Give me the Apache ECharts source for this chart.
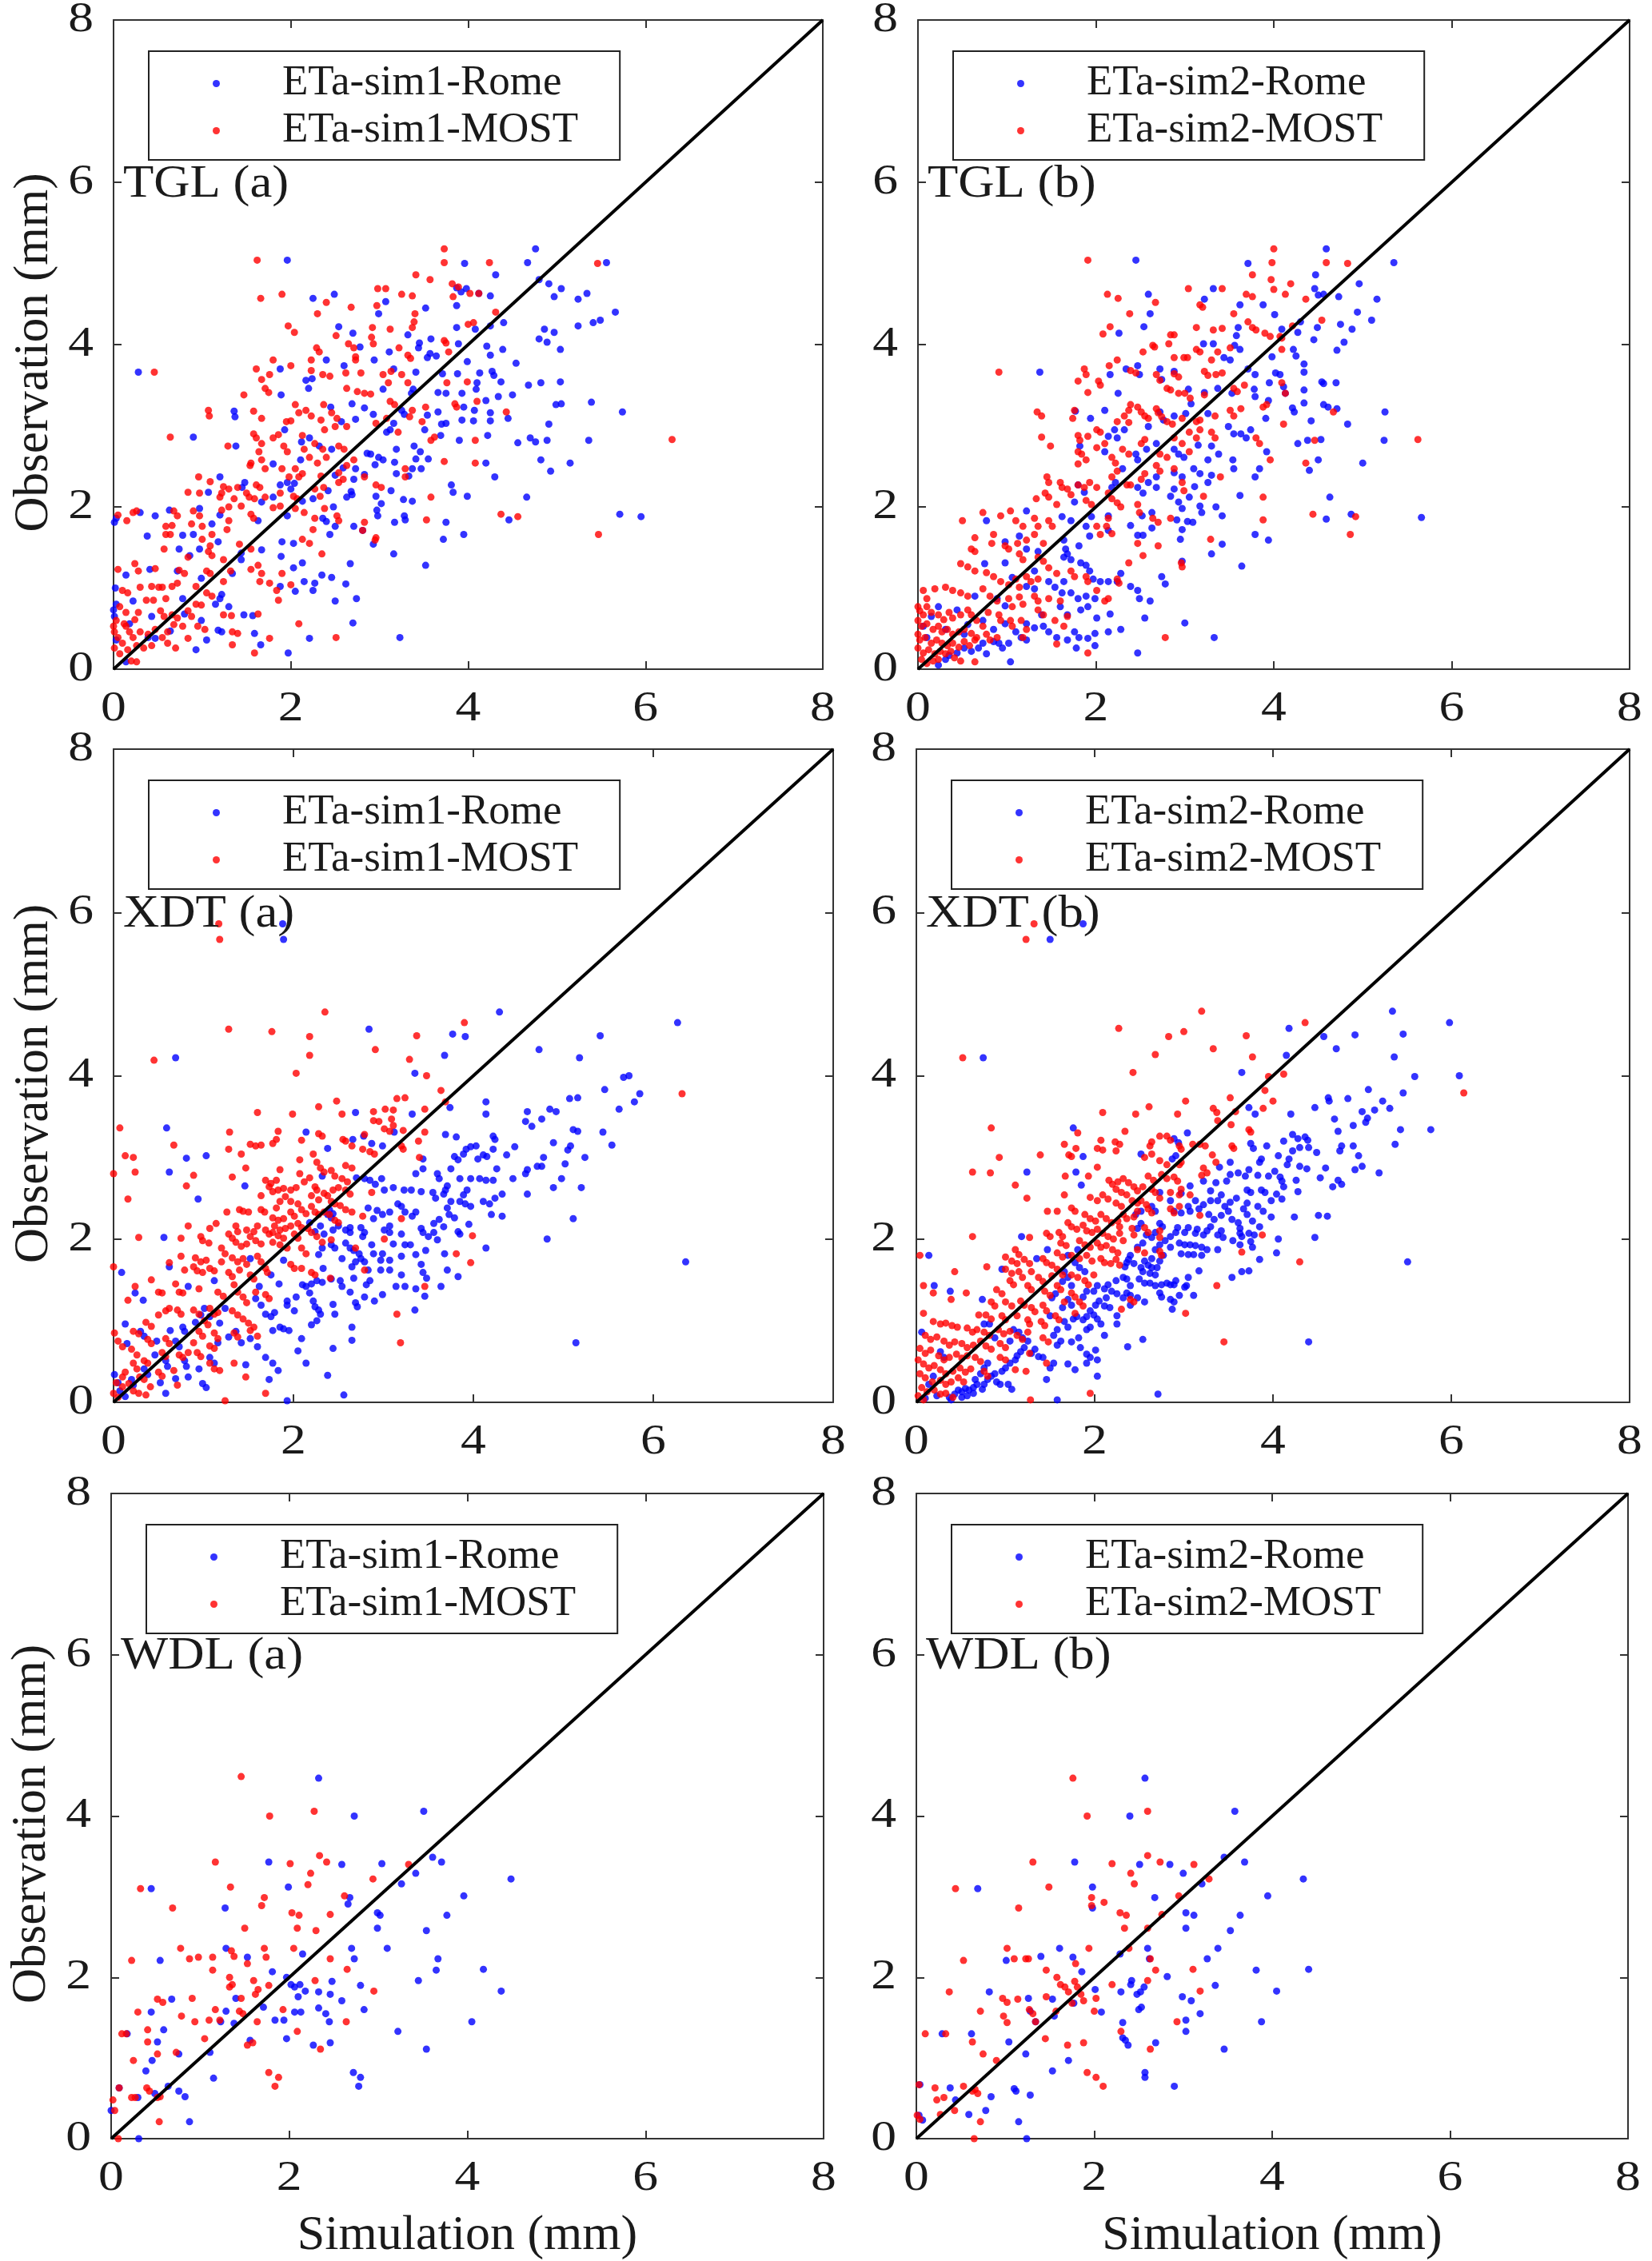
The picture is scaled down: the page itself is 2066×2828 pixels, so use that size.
<!DOCTYPE html>
<html lang="en">
<head>
<meta charset="UTF-8">
<title>ETa simulation vs observation</title>
<script src="https://cdn.jsdelivr.net/npm/echarts/dist/echarts.min.js"></script>
<style>
  html, body { margin: 0; padding: 0; background: #fff; }
  #chart { width: 2066px; height: 2828px; }
</style>
</head>
<body>
<div id="chart"></div>
<script>
// axis ticks shared by every panel
const axisTicks = [0, 2, 4, 6, 8];
const panelLabels = ['TGL (a)', 'TGL (b)', 'XDT (a)', 'XDT (b)', 'WDL (a)', 'WDL (b)'];
const romeNames = ['ETa-sim1-Rome', 'ETa-sim2-Rome'];
const mostNames = ['ETa-sim1-MOST', 'ETa-sim2-MOST'];
const xTitle = 'Simulation (mm)';
const yTitle = 'Observation (mm)';
const labelLevel = 6;          // panel label sits at this observation value
const oneToOne = [0, 8];

// flat lists x, y, x, y ... (simulation mm, observation mm)
const tglRome1 = [1.96,5.04,4.76,5.18,5.56,5.01,3.96,5.0,4.67,5.01,4.31,4.86,4.8,4.8,4.91,4.75,5.05,4.69,4.97,4.59,5.34,4.63,5.24,4.56,5.66,4.4,5.49,4.3,5.41,4.27,5.24,4.23,2.25,4.57,2.49,4.62,3.07,4.53,2.99,4.38,3.52,4.45,3.87,4.7,3.98,4.69,3.92,4.65,3.87,4.48,4.12,4.63,4.25,4.6,2.54,4.22,2.7,4.14,3.32,4.12,3.58,4.07,3.87,4.21,4.08,4.19,4.25,4.23,4.4,4.27,4.8,4.07,4.86,4.19,4.97,4.15,4.89,4.03,5.04,3.94,3.45,4.02,3.44,3.96,3.11,3.91,3.54,3.84,3.64,3.86,3.57,3.89,3.89,4.01,4.21,3.98,4.39,3.94,4.25,3.87,3.99,3.79,2.78,3.97,2.4,3.81,2.6,3.74,2.94,3.81,3.16,3.7,1.88,3.7,0.28,3.66,2.17,3.56,2.24,3.58,2.2,3.46,1.89,3.38,3.41,3.66,3.71,3.64,3.88,3.64,4.13,3.65,4.27,3.67,4.29,3.62,4.54,3.77,4.68,3.5,4.82,3.53,5.04,3.54,4.1,3.53,4.09,3.45,4.37,3.54,3.04,3.45,3.38,3.45,3.36,3.4,3.66,3.41,3.75,3.4,3.93,3.4,4.34,3.36,4.2,3.31,4.5,3.38,5.39,3.29,4.99,3.26,5.05,3.27,5.74,3.17,2.45,3.23,2.69,3.27,2.83,3.22,2.93,3.14,3.25,3.19,3.28,3.14,3.54,3.13,3.66,3.17,3.95,3.23,4.07,3.19,4.25,3.16,4.45,3.09,4.25,3.06,3.93,3.07,4.06,3.06,4.91,3.02,1.36,3.18,1.37,3.11,2.57,3.05,2.73,3.08,3.16,3.03,3.7,3.02,3.75,3.03,3.51,2.95,1.93,2.95,0.9,2.86,4.22,2.88,4.56,2.79,4.7,2.85,4.76,2.8,4.89,2.82,5.36,2.82,3.9,2.82,3.69,2.88,3.08,2.92,3.12,2.95,2.21,2.85,2.12,2.8,2.32,2.75,2.46,2.71,2.9,2.65,2.99,2.61,3.04,2.58,3.39,2.75,3.46,2.68,3.55,2.59,3.41,2.59,3.19,2.71,2.86,2.66,1.38,2.75,2.11,2.58,1.8,2.53,4.2,2.54,4.82,2.58,4.93,2.44,5.15,2.54,4.3,2.37,3.17,2.55,2.95,2.52,3.37,2.47,3.47,2.47,3.19,2.41,3.33,2.38,2.73,2.47,2.83,2.4,2.71,2.34,2.59,2.48,2.5,2.39,1.88,2.27,1.96,2.3,2.04,2.29,2.0,2.22,1.48,2.3,1.45,2.24,1.2,2.37,1.07,2.18,1.8,2.12,2.42,2.2,2.48,2.0,2.68,2.19,2.63,2.12,2.69,2.15,3.13,2.2,3.02,2.04,2.96,2.13,3.27,2.09,3.37,2.07,3.81,2.27,3.83,2.18,3.99,2.13,4.66,2.12,2.25,2.1,1.67,2.06,2.13,2.07,0.63,1.96,0.97,1.98,0.3,1.93,0.03,1.86,0.01,1.81,0.47,1.89,1.2,1.9,1.11,1.79,1.63,1.83,1.96,1.89,2.36,1.86,2.4,1.82,2.5,1.76,2.97,1.96,2.98,1.89,3.28,1.89,3.29,1.84,3.75,1.81,3.17,1.81,2.71,1.76,2.81,1.71,4.46,1.84,5.71,1.91,5.95,1.88,0.38,1.64,0.78,1.65,0.9,1.66,0.74,1.48,0.86,1.4,0.97,1.48,1.18,1.57,1.9,1.57,2.03,1.55,1.89,1.39,1.67,1.47,1.44,1.43,2.44,1.66,2.93,1.54,3.16,1.42,3.72,1.6,3.95,1.66,3.52,1.28,2.67,1.3,0.14,1.16,0.41,1.23,0.72,1.21,0.99,1.12,1.34,1.18,1.44,1.35,2.03,1.25,2.13,1.31,2.15,1.08,2.27,1.06,2.35,1.16,2.46,1.13,2.25,0.97,1.88,1.02,2.62,1.05,2.5,0.84,2.74,0.87,2.7,0.57,2.05,0.96,1.22,0.92,1.2,0.87,1.15,0.8,1.3,0.77,1.47,0.67,1.57,0.66,0,0.73,0.01,0.65,0.22,0.84,0.18,0.56,0.43,0.65,0.78,0.87,0.8,0.68,0.99,0.6,1.18,0.48,1.22,0.46,1.59,0.44,1.66,0.3,2.21,0.38,3.23,0.39,1.97,0.2,0.93,0.24,0.14,0.09,0.39,0.39,0.47,0.38,1.05,0.36,0.64,0.47,0.03,0.36,0.02,1.0,0.03,0.8];
const tglMost1 = [1.62,5.04,3.73,5.18,3.73,5.01,4.24,5.01,5.46,5.0,3.41,4.86,3.57,4.8,1.66,4.57,1.9,4.62,3.82,4.75,3.83,4.59,3.89,4.71,2.98,4.69,3.07,4.69,3.25,4.62,3.37,4.6,2.4,4.52,2.68,4.46,2.97,4.48,4.02,4.63,4.12,4.63,2.3,4.38,3.4,4.38,3.39,4.28,4.31,4.4,1.97,4.23,2.04,4.15,2.92,4.21,2.91,4.09,3.12,4.19,3.37,4.21,4.0,4.25,4.06,4.27,2.51,4.11,2.93,4.01,3.73,4.05,3.75,4.02,2.65,4.01,2.71,3.96,2.29,3.96,2.32,3.91,3.22,3.96,3.78,3.91,3.32,3.87,3.35,3.83,2.73,3.85,2.73,3.81,2.23,3.81,1.8,3.81,2.0,3.74,1.61,3.7,0.46,3.66,1.76,3.63,1.67,3.57,1.71,3.46,2.23,3.68,2.36,3.63,2.44,3.61,2.62,3.65,2.79,3.65,3.04,3.63,3.13,3.67,3.25,3.63,3.1,3.53,2.63,3.46,2.75,3.42,2.9,3.39,2.83,3.4,3.32,3.53,3.76,3.53,3.99,3.54,1.47,3.38,1.75,3.41,2.37,3.26,2.05,3.26,2.09,3.16,2.17,3.19,2.46,3.16,2.52,3.09,2.34,3.07,2.23,3.12,3.12,3.3,3.17,3.26,3.37,3.19,3.34,3.11,3.52,3.23,3.85,3.27,3.87,3.23,4.1,3.3,4.43,3.17,1.07,3.19,1.08,3.12,1.58,3.18,1.67,3.09,1.95,3.05,2.0,3.06,2.5,2.99,2.38,2.95,2.63,2.99,2.96,3.03,3.08,3.09,3.21,2.92,3.48,3.05,0.64,2.86,1.29,2.75,1.58,2.9,1.61,2.85,1.67,2.78,1.64,2.68,1.8,2.85,1.86,2.89,1.92,2.75,1.96,2.68,2.13,2.88,2.15,2.71,2.27,2.78,2.36,2.71,2.4,2.61,2.54,2.75,2.6,2.71,3.58,2.82,3.62,2.86,4.08,2.82,3.73,2.56,4.08,2.54,3.29,2.47,1.55,2.54,1.54,2.51,1.67,2.58,1.71,2.47,1.9,2.47,2.05,2.47,2.13,2.41,2.21,2.61,2.3,2.54,1.98,2.37,2.09,2.37,2.34,2.38,2.54,2.42,2.63,2.51,2.71,2.58,2.83,2.37,0.96,2.37,1.09,2.31,1.24,2.25,1.3,2.22,1.22,2.17,1.4,2.24,1.5,2.17,1.53,2.12,1.59,2.1,1.61,2.27,1.65,2.24,1.71,2.12,1.88,2.17,2.03,2.13,2.07,2.1,0.84,2.18,0.97,2.17,1.2,2.12,1.36,2.1,2.27,2.22,2.37,2.24,2.33,2.13,2.54,2.3,2.59,2.34,2.96,2.27,3.02,2.24,3.29,2.37,3.58,2.12,1.8,1.99,1.88,2.01,2.05,1.98,2.15,1.93,2.38,1.98,2.52,1.89,2.54,1.83,2.27,1.86,0.68,1.95,0.72,1.89,0.9,1.95,0.97,1.89,1.22,1.96,1.3,2.0,1.44,2.01,1.55,1.91,1.58,1.86,0.15,1.83,0.22,1.93,0.26,1.95,0.59,1.76,0.66,1.77,0.88,1.79,1.0,1.76,1.3,1.83,1.28,1.72,1.11,1.66,1.0,1.6,1.09,1.52,0.59,1.66,0.64,1.66,0.57,1.48,0.84,1.38,1.07,1.45,1.11,1.4,1.24,1.35,1.42,1.54,1.55,1.48,2.13,1.6,2.21,1.55,2.25,1.72,2.35,1.42,2.83,1.81,2.96,1.62,2.95,1.59,2.81,1.71,5.47,1.66,4.37,1.91,4.56,1.88,3.53,1.84,6.3,2.83,0.24,1.3,0.28,1.21,0.05,1.23,0.47,1.24,0.74,1.22,0.8,1.18,0.66,1.02,0.72,1.06,0.93,1.02,1.05,1.21,1.09,1.18,1.24,1.08,1.32,1.21,1.55,1.23,1.63,1.28,1.67,1.18,1.65,1.08,1.76,1.06,1.84,0.97,1.9,1.18,2.0,1.04,1.86,0.85,0.1,0.97,0.16,0.94,0.3,1.01,0.43,1.02,0.51,1.01,0.55,1.01,0.37,0.85,0.45,0.85,0.59,0.87,1.05,0.94,1.11,0.9,0.93,0.8,0.99,0.79,0.07,0.77,0.14,0.7,0.28,0.7,0.24,0.61,0.53,0.72,0.57,0.65,0.66,0.67,0.72,0.63,0.84,0.72,0.88,0.65,0.68,0.55,0.78,0.53,0.95,0.53,1.03,0.49,1.24,0.67,1.33,0.66,1.63,0.68,2.09,0.56,2.51,0.39,1.34,0.46,1.4,0.44,1.76,0.38,1.34,0.3,1.59,0.2,0.7,0.26,0.61,0.32,0.84,0.38,0,0.53,0.01,0.46,0.05,0.39,0.1,0.32,0.14,0.53,0.18,0.46,0.22,0.39,0.3,0.46,0.39,0.43,0.47,0.49,0.01,0.26,0.07,0.19,0.16,0.24,0.26,0.29,0.34,0.26,0.43,0.29,0.2,0.1,0.26,0.09,0.03,0.6,0.12,0.56,0.55,0.39,0.61,0.46,0.05,1.9];
const tglRome2 = [2.45,5.04,4.59,5.18,5.35,5.01,3.71,5.0,4.47,4.86,4.46,4.69,4.5,4.61,4.56,4.62,4.73,4.59,4.96,4.75,5.16,4.56,4.94,4.4,5.1,4.3,4.75,4.25,4.88,4.19,4.79,4.03,4.71,3.93,3.32,4.69,3.22,4.56,2.59,4.62,2.61,4.38,2.54,4.22,2.26,4.14,3.62,4.49,3.88,4.49,4.01,4.37,4.3,4.28,4.27,4.15,4.49,4.21,4.45,4.06,4.09,4.19,3.6,4.21,3.58,4.11,3.56,3.99,3.62,3.94,3.21,4.01,3.32,4.01,3.44,3.84,3.51,3.81,3.98,3.85,4.22,3.94,4.25,3.86,4.34,3.76,4.34,3.66,3.71,3.7,3.79,3.63,4.02,3.65,4.07,3.63,3.95,3.53,4.54,3.54,4.56,3.52,4.7,3.53,4.34,3.44,4.11,3.48,4.13,3.4,3.78,3.45,3.79,3.36,3.94,3.31,4.21,3.22,4.23,3.17,4.34,3.28,4.56,3.26,4.61,3.23,4.71,3.21,5.25,3.17,4.42,3.06,4.83,3.02,4.27,2.78,4.38,2.82,4.53,2.83,5.24,2.82,4.5,2.58,5.0,2.54,4.4,2.45,4.63,2.12,4.59,1.85,4.87,1.91,5.66,1.87,1.37,3.66,2.47,3.74,2.49,3.63,2.34,3.7,2.72,3.7,2.74,3.57,2.88,3.67,2.16,3.63,2.25,3.4,3.04,3.45,3.22,3.41,3.37,3.46,3.53,3.4,3.07,3.27,3.01,3.15,3.26,3.15,2.88,3.12,2.72,3.17,2.76,3.07,2.59,2.99,2.1,3.19,1.94,3.09,1.77,3.18,2.21,2.95,2.14,2.87,2.24,2.85,1.82,2.75,2.1,2.68,2.32,2.95,2.45,2.65,2.47,2.58,2.57,2.71,2.68,2.78,2.88,2.71,2.93,2.65,2.99,2.61,3.15,2.76,3.3,2.75,3.26,2.58,3.49,2.99,3.55,2.9,3.63,2.9,3.69,2.85,3.74,2.95,3.91,3.09,3.92,2.68,3.84,2.47,3.79,2.37,3.54,2.58,3.55,2.47,3.38,2.65,3.1,2.47,3.17,2.41,3.3,2.39,3.26,2.3,2.88,2.42,2.97,2.37,2.68,2.37,2.59,2.3,2.3,2.47,2.22,2.3,2.18,2.24,2.47,2.24,2.53,2.17,2.68,2.24,2.88,2.22,2.84,2.13,2.93,2.06,3.11,2.25,3.05,2.12,3.35,2.0,3.42,1.89,3.62,2.14,3.17,2.01,3.19,1.93,2.97,1.98,2.91,1.84,3.03,1.82,3.09,1.81,2.63,1.93,2.52,1.89,2.39,1.77,2.14,1.89,1.95,1.88,1.8,2.27,1.87,2.18,1.76,2.06,1.62,1.88,1.72,1.83,1.89,1.76,1.93,1.64,2.14,1.71,2.47,1.65,2.53,1.65,2.63,1.74,2.97,1.72,2.95,1.6,3.3,1.42,3.42,1.54,2.97,1.33,3.79,1.66,3.94,1.59,3.64,1.27,1.22,1.95,0.77,1.83,0.98,1.57,1.14,1.64,1.22,1.48,1.35,1.45,1.64,1.59,1.66,1.48,1.68,1.42,1.72,1.35,1.64,1.38,1.81,1.52,1.83,1.31,1.89,1.28,1.93,1.21,1.97,1.11,2.05,1.08,2.14,1.08,2.24,1.08,2.28,1.18,2.39,1.02,2.47,0.97,2.49,0.87,2.61,0.84,2.74,1.14,2.78,1.05,2.55,0.63,3.0,0.57,3.33,0.39,2.47,0.2,0.75,1.3,0.98,1.31,1.06,1.13,1.31,1.21,1.22,1.02,1.31,0.99,1.47,1.08,1.54,1.01,1.64,1.08,1.62,0.94,1.72,0.94,1.8,0.87,1.89,0.9,1.99,0.87,1.83,0.73,1.91,0.77,2.01,0.63,2.16,0.68,2.28,0.49,2.14,0.46,1.99,0.44,1.76,0.46,1.81,0.39,1.91,0.38,1.99,0.29,1.78,0.26,1.68,0.36,1.41,0.53,1.47,0.46,1.56,0.39,1.6,0.77,1.68,0.67,1.39,0.67,1.22,0.56,1.31,0.51,1.1,0.46,1.16,0.39,1.22,0.36,1.02,0.32,0.95,0.26,0.85,0.34,0.91,0.32,0.98,0.56,0.85,0.49,0.73,0.32,0.68,0.26,0.6,0.22,0.77,0.19,0.52,0.26,0.44,0.2,0.35,0.17,1.04,0.09,0.31,0.12,0.23,0.05,0.52,0.43,0.98,0.78,0.89,0.87,0.64,0.9,0.44,0.73,0.23,0.77,0.15,0.65,0.06,0.53,0.1,0.39,0.31,0.49,0.73,0.6,0.56,0.55];
const tglMost2 = [1.91,5.04,4.0,5.18,3.98,5.01,4.59,5.01,4.83,5.0,3.76,4.86,3.97,4.8,4.19,4.75,4.13,4.62,4.0,4.68,3.69,4.62,3.76,4.59,3.04,4.69,3.42,4.69,2.13,4.62,2.25,4.57,2.67,4.52,3.2,4.46,3.17,4.49,3.55,4.38,4.36,4.56,4.54,4.3,2.38,4.38,2.16,4.22,2.08,4.13,3.13,4.21,3.32,4.18,3.42,4.2,3.71,4.28,3.76,4.21,3.8,4.18,3.9,4.14,3.96,4.1,4.07,4.1,4.09,4.08,4.21,4.23,2.84,4.12,2.88,4.12,2.99,3.84,3.03,3.84,2.64,3.99,2.66,3.97,2.53,3.91,2.82,4.01,3.13,3.94,3.17,3.91,2.88,3.84,3.37,3.91,3.3,3.81,3.51,3.96,4.09,3.94,2.24,3.81,2.15,3.74,1.87,3.7,1.89,3.63,1.8,3.55,0.91,3.66,2.03,3.55,2.05,3.5,1.91,3.41,2.39,3.68,2.45,3.65,2.68,3.63,2.72,3.56,2.88,3.64,2.93,3.6,3.22,3.67,3.26,3.62,3.35,3.63,3.42,3.65,2.8,3.46,2.84,3.44,2.93,3.4,3.0,3.4,3.06,3.34,3.22,3.38,3.55,3.46,3.59,3.42,3.67,3.5,4.09,3.53,4.13,3.4,1.34,3.17,1.39,3.12,1.76,3.19,1.74,3.09,2.39,3.26,2.37,3.19,2.47,3.23,2.51,3.17,2.55,3.12,2.59,3.09,2.32,3.12,2.24,3.05,2.37,3.04,2.68,3.21,2.7,3.16,2.74,3.11,2.8,3.05,2.86,3.02,2.97,3.09,3.13,3.05,3.17,3.07,3.34,3.12,3.51,3.19,3.55,3.12,3.63,3.21,3.88,3.23,3.92,3.26,4.11,3.02,4.67,3.17,4.46,2.82,5.62,2.83,3.88,2.12,4.44,1.91,4.92,1.88,4.86,1.66,3.88,1.84,4.36,2.54,3.96,2.58,3.8,2.85,3.84,2.78,1.39,2.86,1.49,2.75,1.8,2.88,1.82,2.82,1.91,2.87,2.01,2.95,2.05,2.92,1.8,2.68,1.84,2.65,1.89,2.58,1.8,2.53,2.01,2.73,2.1,2.78,2.18,2.61,2.22,2.54,2.3,2.71,2.37,2.65,2.51,2.78,2.55,2.83,2.72,2.65,2.8,2.61,2.88,2.85,2.97,2.78,3.05,2.92,3.13,2.85,3.17,2.95,3.3,2.92,3.34,2.85,3.05,2.68,1.45,2.37,1.47,2.3,1.6,2.3,1.62,2.24,1.68,2.22,1.72,2.15,1.8,2.27,1.87,2.24,1.93,2.3,2.01,2.24,1.43,2.17,1.47,2.12,1.33,2.1,1.56,2.03,1.89,2.08,1.95,2.03,2.14,2.17,2.18,2.1,2.24,2.05,2.28,2.0,2.35,2.27,2.39,2.27,2.18,2.37,2.24,2.44,2.51,2.34,2.55,2.41,2.68,2.51,2.72,2.44,2.88,2.47,2.97,2.3,2.99,2.2,3.21,2.13,3.4,2.37,2.47,2.03,2.49,1.93,2.64,1.86,2.7,1.81,2.84,1.86,2.14,1.86,2.12,1.76,2.01,1.76,2.05,1.66,2.18,1.67,2.47,1.55,2.7,1.52,2.53,1.4,2.96,1.31,2.97,1.26,2.37,1.31,3.29,1.6,1.04,1.95,0.73,1.93,0.93,1.89,0.5,1.83,1.1,1.83,1.18,1.76,1.31,1.86,1.35,1.76,1.47,1.83,1.51,1.76,0.85,1.66,0.64,1.62,0.83,1.55,0.6,1.48,0.64,1.45,0.98,1.52,1.02,1.48,1.12,1.55,1.22,1.59,1.31,1.66,1.14,1.42,1.18,1.35,1.35,1.38,1.41,1.33,1.41,1.55,1.47,1.25,1.56,1.18,0.48,1.3,0.56,1.26,0.64,1.21,0.77,1.19,0.85,1.14,0.93,1.08,1.02,1.04,1.1,1.11,1.14,1.01,1.22,1.14,1.27,1.08,1.35,1.11,1.72,1.21,1.76,1.14,1.89,1.14,1.91,1.08,2.01,0.97,2.14,0.87,2.24,1.11,2.26,1.06,2.1,0.84,0.19,0.99,0.31,1.01,0.39,0.97,0.48,0.94,0.56,0.9,0.73,0.99,0.81,0.9,0.89,0.84,1.02,0.87,1.06,0.77,1.14,0.89,1.18,0.8,1.31,0.9,1.35,0.84,1.47,0.87,1.6,0.84,1.35,0.73,1.41,0.67,1.54,0.6,1.64,0.53,1.56,0.31,1.91,0.2,2.78,0.39,1.68,0.65,1.16,0.6,1.22,0.49,1.18,0.39,1.04,0.6,1.06,0.53,0.91,0.67,0.93,0.6,0.79,0.7,0.64,0.09,0,0.77,0.02,0.72,0.06,0.67,0.1,0.77,0.15,0.7,0.23,0.67,0.29,0.61,0.35,0.7,0.39,0.63,0.48,0.67,0.56,0.73,0.6,0.67,0.66,0.6,0.73,0.53,0,0.6,0.04,0.53,0.1,0.56,0.17,0.49,0.23,0.53,0.27,0.46,0.33,0.49,0.39,0.43,0.46,0.46,0.52,0.49,0.6,0.44,0.66,0.39,0.77,0.43,0.81,0.36,0.89,0.39,0,0.43,0.02,0.36,0.08,0.39,0.15,0.32,0.21,0.36,0.27,0.32,0.33,0.29,0.39,0.32,0.46,0.27,0.52,0.34,0.58,0.29,0.64,0.36,0,0.26,0.06,0.2,0.12,0.24,0.19,0.19,0.25,0.22,0.31,0.19,0.37,0.22,0.04,0.12,0.1,0.07,0.17,0.1,0.23,0.12,0.41,0.14,0.48,0.1,0.06,0.97,0.1,0.87];
const xdtRome1 = [1.88,5.86,1.89,5.67,4.29,4.78,6.27,4.65,2.84,4.57,3.77,4.51,3.91,4.48,5.41,4.49,4.73,4.32,5.18,4.22,3.68,4.25,3.35,4.03,0.69,4.22,5.67,3.98,5.73,4.0,5.46,3.83,5.85,3.78,5.07,3.72,5.16,3.73,5.79,3.68,4.14,3.68,5.62,3.59,3.74,3.61,4.6,3.56,4.58,3.44,4.65,3.38,4.85,3.59,4.92,3.56,4.76,3.47,4.14,3.53,2.69,3.55,3.32,3.53,5.11,3.34,5.16,3.32,5.44,3.31,5.54,3.15,4.22,3.26,4.24,3.22,4.46,3.13,3.69,3.28,3.81,3.25,4.89,3.18,5.08,3.14,5.05,3.09,5.24,3.0,4.78,3.0,4.03,3.14,3.97,3.13,3.92,3.1,4.11,3.03,4.15,3.01,4.22,3.1,4.37,3.03,4.05,2.98,4.26,2.86,3.79,3.01,3.83,2.97,3.89,3.04,3.44,2.98,3.44,2.86,3.75,2.86,3.36,2.8,3.6,2.8,3.62,2.74,4.71,2.89,4.76,2.89,4.6,2.85,4.58,2.8,5.02,2.92,4.98,2.74,4.44,2.74,4.89,2.63,5.2,2.63,4.6,2.55,4.32,2.55,3.85,2.74,3.97,2.74,4.07,2.74,4.14,2.72,4.22,2.72,3.71,2.65,3.69,2.6,3.67,2.55,3.93,2.6,3.89,2.54,3.85,2.46,4.11,2.46,4.18,2.43,4.24,2.5,3.91,2.43,3.97,2.4,3.75,2.46,3.71,2.38,3.55,2.57,3.58,2.5,3.42,2.58,3.31,2.6,3.23,2.6,3.11,2.63,3.01,2.6,2.91,2.67,2.85,2.72,2.98,2.74,2.79,2.74,2.32,2.77,2.7,2.75,1.46,2.65,0.94,2.49,0.62,2.82,0.81,2.99,1.03,3.02,0.59,3.36,2.14,3.31,2.66,3.22,2.87,3.17,2.78,3.26,2.38,3.11,2.99,3.14,3.12,3.31,4.14,1.89,4.82,2.0,5.11,2.25,4.32,2.28,4.2,2.3,3.95,2.18,3.83,2.09,3.85,2.06,3.79,2.26,3.73,2.3,3.62,2.24,3.56,2.19,3.67,2.15,3.56,2.08,3.5,2.03,3.6,1.99,3.42,2.13,3.44,2.08,3.32,2.28,3.24,2.33,3.2,2.4,3.16,2.43,3.07,2.33,2.99,2.3,2.93,2.35,2.83,2.38,2.89,2.25,3.36,2.33,3.07,2.16,3.01,2.11,3.07,2.08,3.2,2.06,3.24,1.93,3.3,1.93,3.11,1.94,3.47,1.86,3.68,1.82,3.36,1.81,3.2,1.79,2.99,1.82,2.87,1.93,2.77,2.03,2.79,2.08,2.75,2.14,2.63,2.14,2.58,2.11,2.63,2.08,2.5,2.16,2.44,2.11,2.4,2.36,2.44,2.31,2.38,2.3,2.42,2.26,2.3,2.16,2.34,2.06,2.18,2.2,2.24,2.09,2.42,1.93,2.46,1.89,2.32,1.89,2.28,1.81,2.58,1.95,2.63,1.89,2.67,1.86,2.73,1.82,2.75,1.76,2.69,1.72,2.79,1.72,2.54,1.76,2.89,1.82,2.97,1.74,3.07,1.74,3.2,1.56,3.24,1.42,3.14,1.42,3.07,1.62,3.42,1.69,3.44,1.59,3.36,1.39,3.35,1.13,3.48,1.52,3.46,1.3,3.64,1.42,3.71,1.62,3.83,1.54,2.83,1.62,2.85,1.49,2.81,1.44,2.97,1.62,2.99,1.32,2.9,1.24,2.79,1.29,2.65,1.66,2.67,1.52,2.52,1.49,2.63,1.35,2.69,1.22,2.71,1.17,2.65,0.92,2.65,0.76,2.54,1.42,2.42,1.51,2.33,1.64,2.32,1.47,2.26,1.49,2.2,1.45,2.1,1.44,2.14,1.42,2.18,1.34,2.03,1.29,2.22,1.24,2.24,1.17,2.28,1.13,2.3,1.08,2.26,1.0,2.2,0.95,2.44,1.2,2.46,1.08,2.01,1.12,1.93,1.24,1.93,1.19,1.79,1.1,1.75,1.05,1.69,1.08,1.77,0.88,1.85,0.92,1.89,0.9,1.95,0.88,1.64,1.19,1.58,1.27,1.52,1.76,1.89,1.74,1.84,1.45,1.62,1.42,1.75,1.56,2.09,0.78,2.05,0.63,2.14,0.48,2.44,0.66,2.38,0.33,2.56,0.09,1.93,0.02,1.69,0.55,1.77,0.48,1.83,0.39,1.73,0.28,1.6,0.68,1.47,0.46,1.52,0.78,1.42,0.73,1.36,0.87,1.28,0.8,1.18,0.97,1.16,0.73,1.24,1.15,1.12,1.49,1.01,1.15,0.97,1.07,1.07,1.05,0.91,0.98,0.83,1.42,0.62,1.66,0.56,2.02,0.09,1.59,0.24,1.34,0.33,1.25,0.13,0.96,0.3,0.87,0.34,0.81,0.15,0.72,0.48,0.75,0.63,0.88,0.77,0.92,0.79,0.87,0.69,0.75,0.73,0.68,0.46,0.58,0.58,0.51,0.6,0.44,0.79,0.51,0.81,0.44,0.83,0.31,0.69,0.29,0.99,0.23,1.03,0.18,0.58,0.11,0.95,0.41,1.07,0.55,1.12,0.48,0.34,0.41,0.38,0.34,0.2,0.28,0.22,0.21,0.01,0.34,0.05,0.24,0.07,0.14,0.13,0.07,0.52,0.24,5.14,0.73,6.36,1.72];
const xdtMost1 = [1.17,5.86,1.18,5.67,2.35,4.78,1.28,4.57,1.76,4.54,2.18,4.48,3.9,4.65,3.37,4.49,2.91,4.32,2.18,4.25,0.45,4.19,3.29,4.2,2.03,4.03,3.48,4.0,3.64,3.82,6.32,3.78,3.15,3.72,3.24,3.73,2.48,3.69,2.28,3.62,1.6,3.55,1.99,3.53,2.54,3.53,3.02,3.59,3.11,3.58,2.89,3.56,3.46,3.59,3.69,3.68,2.89,3.45,2.95,3.44,3.09,3.47,3.11,3.39,3.01,3.35,3.07,3.32,3.22,3.33,3.46,3.31,0.07,3.36,1.29,3.31,1.83,3.32,1.81,3.22,2.28,3.29,2.32,3.26,2.09,3.21,2.55,3.22,2.58,3.2,2.65,3.14,2.79,3.28,2.77,3.1,2.85,3.07,2.9,3.04,3.2,3.14,3.22,3.1,3.39,3.2,3.4,3.0,0.67,3.15,1.52,3.16,1.58,3.14,1.64,3.15,1.28,3.1,1.77,3.17,1.42,3.04,0.13,3.02,0.22,3.0,0.24,2.82,0,2.8,0.89,2.78,0.81,2.65,1.32,2.76,1.47,2.87,1.85,2.85,2.07,2.97,2.22,3.04,2.26,2.94,2.3,2.87,2.34,2.82,2.42,2.84,2.46,2.77,2.58,2.9,2.65,2.87,2.54,2.74,2.6,2.7,2.5,2.63,2.44,2.6,2.58,2.6,2.63,2.55,2.18,2.75,2.12,2.7,2.24,2.64,2.26,2.6,2.07,2.8,1.69,2.72,1.75,2.68,1.81,2.72,1.73,2.64,1.77,2.58,1.83,2.6,1.89,2.62,1.97,2.6,2.03,2.63,1.91,2.52,1.97,2.46,2.05,2.43,2.2,2.53,2.28,2.48,2.34,2.56,2.38,2.53,2.42,2.46,2.46,2.43,2.52,2.41,2.58,2.36,2.65,2.33,2.87,2.57,0.16,2.49,1.64,2.53,1.85,2.46,1.81,2.38,1.97,2.33,2.01,2.28,2.09,2.36,2.14,2.31,2.2,2.4,2.24,2.33,2.28,2.3,2.34,2.33,2.4,2.3,2.46,2.23,2.5,2.2,2.77,2.28,1.4,2.36,1.44,2.34,1.5,2.33,1.26,2.33,1.64,2.36,1.68,2.33,1.77,2.26,1.83,2.23,1.89,2.25,1.79,2.16,1.85,2.11,1.91,2.13,1.97,2.16,2.05,2.19,2.09,2.14,2.16,2.13,2.2,2.08,2.01,2.06,2.05,2.01,1.83,2.04,1.89,2.01,1.77,2.08,1.69,2.11,1.73,2.06,1.6,2.16,1.56,2.09,1.48,2.11,1.52,2.03,1.36,2.16,1.38,2.09,1.28,2.06,1.32,2.01,1.36,1.96,1.42,1.91,1.48,1.94,1.58,1.98,1.64,1.94,1.77,1.96,1.85,1.93,1.93,1.89,2.09,1.89,2.14,1.82,2.26,2.03,2.32,1.96,2.42,1.99,1.2,1.89,1.24,1.82,1.07,2.13,0.83,2.16,1.14,2.19,0.97,2.03,0.99,1.98,0.75,2.01,0.28,2.02,1.06,1.95,1.2,1.72,1.32,1.77,1.38,1.72,1.44,1.76,1.48,1.69,1.6,1.79,1.64,1.72,0.91,1.77,0.97,1.72,1.03,1.74,0.89,1.66,0.93,1.61,0.99,1.59,0.75,1.79,0.62,1.71,0.79,1.62,1.07,1.64,1.12,1.61,1.28,1.59,1.32,1.54,1.4,1.62,1.52,1.56,1.56,1.51,1.69,1.64,1.71,1.59,1.97,1.69,2.01,1.64,2.09,1.64,2.2,1.59,2.24,1.56,2.41,1.52,2.79,1.62,3.46,1.42,3.81,1.82,3.99,2.04,3.97,1.71,3.01,2.0,2.69,1.89,3.2,2.25,3.15,1.08,3.19,0.73,0.42,1.5,0,1.66,0.24,1.42,0.16,1.25,0.5,1.35,0.54,1.34,0.69,1.45,0.73,1.35,0.77,1.34,0.95,1.39,1.16,1.35,1.22,1.3,1.34,1.44,1.38,1.35,1.44,1.29,1.48,1.22,1.58,1.35,1.69,1.32,1.73,1.27,0.58,1.12,0.62,1.15,0.5,1.07,0.71,1.13,0.75,1.08,0.89,1.13,0.95,1.08,1.07,1.15,1.12,1.08,1.01,1.0,1.05,0.95,1.16,1.1,1.32,1.12,1.38,1.07,1.44,1.02,1.5,0.97,1.56,0.92,1.6,0.81,1.52,0.88,1.34,0.85,1.38,0.8,0.95,0.87,0.99,0.81,1.12,0.85,1.16,0.78,0.89,0.73,1.07,0.69,1.12,0.66,0.36,0.98,0.42,0.93,0.22,0.87,0.28,0.84,0.38,0.77,0.42,0.72,0.58,0.78,0.62,0.72,0.01,0.85,0.05,0.75,0.1,0.68,0.2,0.65,0.26,0.58,0.54,0.61,0.58,0.56,0.73,0.58,0.77,0.55,0.93,0.61,0.97,0.56,0.83,0.61,0.34,0.51,0.38,0.48,0.22,0.48,0.26,0.41,0.13,0.37,0.1,0.31,0.29,0.31,0.34,0.28,0.5,0.37,0.54,0.32,0.67,0.39,0.71,0.21,1.07,0.48,1.12,0.41,1.18,0.39,1.34,0.48,1.47,0.31,0.03,0.24,0.1,0.19,0.17,0.23,0.22,0.14,0.28,0.11,0.36,0.09,0,0.11,0.05,0.06,0.41,0.19,1.69,0.11,1.24,0.02];
const xdtRome2 = [1.87,5.86,1.5,5.67,5.34,4.79,5.98,4.65,4.18,4.58,4.57,4.48,4.92,4.5,5.46,4.51,4.71,4.33,4.15,4.25,5.36,4.23,3.65,4.04,0.75,4.22,6.09,4.0,5.59,3.99,5.07,3.83,5.46,3.79,4.62,3.73,4.63,3.69,4.84,3.72,5.23,3.69,5.31,3.6,4.47,3.61,3.73,3.61,3.8,3.53,4.2,3.53,5.0,3.56,5.14,3.58,5.06,3.48,5.04,3.43,4.69,3.47,4.9,3.39,4.73,3.32,5.43,3.34,5.77,3.34,5.37,3.16,4.9,3.14,4.77,3.14,4.75,3.08,4.96,3.02,5.0,2.89,4.92,2.85,5.19,2.81,4.22,3.28,4.28,3.23,4.36,3.25,4.39,3.21,4.12,3.2,4.3,3.12,4.22,3.08,4.4,3.12,4.49,3.06,3.93,3.14,4.06,3.02,3.75,3.17,3.78,3.11,3.87,2.98,3.85,2.94,3.52,2.94,4.18,2.98,4.16,2.91,4.3,2.89,4.38,2.86,4.26,2.72,4.53,2.75,4.59,2.87,4.73,2.72,4.67,2.64,4.77,2.67,4.28,2.58,4.12,2.64,4.08,2.76,4.1,2.71,4.02,2.83,3.95,2.77,3.83,2.78,3.73,2.85,3.69,2.77,3.61,2.81,3.4,2.88,3.52,2.79,3.48,2.71,3.36,2.69,3.3,2.59,3.22,2.71,3.07,2.65,3.04,3.3,2.89,3.23,2.94,3.18,2.52,3.04,2.91,3.02,2.87,2.98,1.76,3.36,1.87,3.01,1.79,2.82,1.24,2.82,1.85,2.66,3.71,2.6,3.75,2.57,3.87,2.6,3.91,2.57,4.04,2.55,4.1,2.49,4.24,2.27,4.51,2.29,4.61,2.28,4.47,2.02,5.51,1.72,3.98,2.47,3.98,2.27,3.83,2.4,3.89,2.34,3.71,2.44,3.67,2.37,3.59,2.5,3.52,2.45,3.42,2.54,3.38,2.47,3.46,2.4,3.3,2.47,3.22,2.42,3.13,2.47,3.17,2.37,3.05,2.4,3.07,2.34,2.97,2.32,3.28,2.3,3.34,2.24,3.42,2.29,3.5,2.34,3.54,2.24,3.61,2.2,3.63,2.13,3.71,2.3,3.77,2.22,3.85,2.15,3.63,2.07,3.65,2.03,3.73,2.07,3.79,2.05,3.55,1.98,3.42,2.1,3.38,2.05,3.44,2.02,3.3,2.15,3.26,2.1,3.22,2.05,3.15,2.12,3.13,2.07,3.05,2.14,3.01,2.08,2.93,2.14,2.91,2.08,2.85,2.03,2.79,1.98,2.95,1.95,3.01,1.93,3.07,1.93,3.13,1.92,3.2,1.9,3.26,1.87,3.38,1.87,2.97,1.82,3.05,1.81,3.11,1.81,3.2,1.8,2.85,1.9,2.73,1.93,2.68,1.87,2.77,1.8,2.73,1.73,2.64,1.76,2.56,1.73,2.6,1.68,2.64,1.65,2.7,1.65,2.52,1.65,2.54,1.6,2.44,1.7,2.4,1.8,2.38,1.75,2.48,1.9,2.54,1.95,2.58,2.05,2.64,2.02,2.68,2.08,2.73,2.19,2.76,2.15,2.52,2.19,2.48,2.13,2.46,2.3,2.52,2.34,2.64,2.4,2.68,2.34,2.73,2.57,2.97,2.56,2.85,2.47,2.89,2.34,4.06,2.0,3.75,1.97,3.77,1.9,3.63,1.93,4.04,1.83,3.85,1.75,3.17,1.61,3.05,1.53,3.03,1.43,3.01,1.41,2.91,1.49,2.89,1.44,2.85,1.44,2.81,1.46,2.75,1.44,2.68,1.43,2.62,1.46,2.56,1.46,2.5,1.51,2.68,1.56,2.62,1.58,2.73,1.34,2.75,1.29,2.85,1.26,2.89,1.23,2.95,1.31,3.11,1.31,2.87,1.14,3.54,1.53,3.65,1.6,3.73,1.61,2.36,1.71,2.34,1.66,2.32,1.53,2.36,1.51,2.4,1.43,2.24,1.49,2.15,1.44,2.11,1.39,2.19,1.36,2.25,1.33,2.36,1.34,2.4,1.31,2.48,1.28,2.56,1.23,2.4,1.19,2.32,1.28,2.17,1.16,2.03,1.43,1.99,1.36,2.05,1.24,2.01,1.19,1.91,1.36,1.87,1.29,1.95,1.12,1.99,1.07,2.03,1.02,1.91,1.05,1.87,1.01,1.8,1.05,1.76,1.02,1.95,0.92,1.91,0.89,2.07,0.96,2.11,0.82,2.25,0.96,2.25,1.06,2.11,1.18,2.13,1.28,2.54,0.77,2.37,0.68,2.71,0.1,1.58,0.03,4.4,0.74,1.81,1.87,1.78,1.71,1.7,1.8,1.47,1.87,1.35,1.76,1.18,2.03,1.66,1.6,1.7,1.53,1.83,1.65,1.89,1.6,1.74,1.43,1.64,1.48,1.56,1.33,1.52,1.28,1.7,1.26,1.74,1.19,1.64,1.16,1.5,1.06,1.66,0.99,1.7,0.92,1.58,0.89,1.54,0.82,1.62,0.75,1.58,0.7,1.74,0.74,1.82,0.79,1.84,0.67,1.91,0.59,1.95,0.55,2.01,0.64,2.03,0.52,1.91,0.48,1.7,0.47,1.78,0.4,2.03,0.32,1.46,0.28,1.5,0.42,1.54,0.48,1.42,0.55,1.37,0.56,1.33,0.65,1.29,0.6,1.21,0.67,1.17,0.62,1.25,0.75,1.19,0.79,1.13,0.57,1.11,0.52,1.05,0.48,1.0,0.42,0.96,0.38,0.88,0.35,0.84,0.32,0.8,0.28,0.9,0.25,0.94,0.22,1.03,0.22,1.07,0.16,0.76,0.22,0.74,0.16,0.68,0.22,0.64,0.18,0.59,0.15,0.55,0.17,0.51,0.13,0.47,0.15,0.64,0.11,0.57,0.08,0.51,0.06,0.43,0.1,0.37,0.06,0.39,0.03,0.66,0.28,0.72,0.35,0.76,0.42,0.8,0.48,1.09,0.89,1.15,0.86,1.05,0.75,0.88,0.79,0.76,0.96,0.74,1.26,0.38,1.36,0.14,1.8,0.2,1.43,0.27,0.62,0.31,0.55,0.19,0.32,0.14,0.22,0.23,0.08,0.1,0.05,0.06,0.86,0.96,1.63,0.82,0.96];
const xdtMost2 = [1.32,5.86,1.23,5.67,3.2,4.79,2.27,4.58,3.0,4.54,2.83,4.48,3.7,4.49,4.36,4.65,3.33,4.33,2.68,4.26,3.77,4.23,0.52,4.22,2.43,4.04,4.12,4.02,3.95,3.99,6.14,3.79,3.91,3.82,3.52,3.73,3.02,3.69,4.0,3.69,2.61,3.62,2.09,3.55,2.46,3.53,2.93,3.53,3.33,3.6,3.37,3.55,3.89,3.6,3.58,3.56,3.38,3.45,3.53,3.4,3.73,3.34,3.75,3.31,0.84,3.36,2.34,3.32,1.81,3.3,2.07,3.21,2.03,3.11,2.09,3.09,2.23,3.19,2.28,3.16,2.73,3.26,2.81,3.26,2.85,3.21,2.64,3.19,2.62,3.14,2.95,3.14,2.97,3.1,3.1,3.16,3.18,3.16,3.24,3.14,3.54,3.14,3.56,3.11,1.66,3.16,1.79,3.11,1.39,3.03,0.93,3.0,1.71,3.03,1.74,3.01,2.24,3.08,2.56,3.0,2.64,3.04,2.73,2.96,2.81,2.91,2.95,2.91,2.97,2.94,3.32,3.03,3.36,2.94,3.22,2.87,3.26,2.81,3.2,2.78,0.63,2.82,0.83,2.81,1.11,2.66,1.24,2.5,1.67,2.77,1.93,2.77,2.03,2.88,2.16,2.72,2.2,2.67,2.26,2.7,2.32,2.74,2.38,2.69,2.24,2.61,2.3,2.57,2.36,2.54,2.44,2.64,2.48,2.59,2.54,2.64,2.6,2.77,2.66,2.72,2.75,2.79,2.81,2.74,2.64,2.61,2.68,2.57,2.73,2.5,2.89,2.76,2.93,2.71,2.97,2.61,2.95,2.54,2.85,2.57,3.07,2.54,1.66,2.54,1.95,2.51,2.03,2.47,2.09,2.54,2.15,2.49,2.24,2.44,2.3,2.4,2.42,2.47,2.48,2.44,2.52,2.47,2.58,2.42,2.6,2.37,2.64,2.32,2.48,2.34,2.44,2.27,2.32,2.3,2.36,2.25,2.85,2.37,2.89,2.32,2.95,2.4,3.18,2.29,1.47,2.34,1.58,2.34,1.74,2.38,1.78,2.34,1.89,2.3,1.95,2.25,2.01,2.22,2.07,2.3,2.13,2.25,2.19,2.2,2.26,2.22,2.28,2.15,1.7,2.2,1.74,2.15,1.8,2.12,1.87,2.17,1.91,2.1,1.97,2.08,2.03,2.12,2.09,2.07,2.15,2.03,2.21,2.0,2.28,2.07,2.32,1.98,2.42,2.13,2.44,2.05,2.56,2.14,2.6,2.08,2.73,2.1,2.73,2.02,1.46,2.07,1.5,2.03,1.6,2.08,1.64,2.03,1.27,2.02,0.63,2.03,1.62,1.95,1.68,1.92,1.83,1.98,1.89,1.93,1.95,1.9,2.03,1.95,2.07,1.9,2.13,1.92,2.2,1.87,2.26,1.83,2.48,1.87,2.56,1.83,2.73,1.85,2.75,1.8,1.58,1.83,1.64,1.78,1.74,1.8,1.83,1.76,1.91,1.8,1.97,1.73,2.07,1.76,2.11,1.71,2.18,1.7,2.24,1.75,2.28,1.68,1.11,1.87,1.15,1.81,1.0,1.78,1.07,1.73,1.13,1.7,1.21,1.75,1.27,1.7,1.42,1.76,1.46,1.71,1.52,1.68,1.58,1.63,1.0,1.63,1.07,1.58,1.15,1.6,1.19,1.53,1.29,1.6,1.37,1.53,1.42,1.48,1.52,1.55,1.64,1.56,1.74,1.56,1.81,1.53,1.89,1.49,1.93,1.44,1.99,1.56,1.05,1.49,1.09,1.44,1.25,1.43,1.29,1.38,1.44,1.36,1.5,1.31,1.58,1.43,1.62,1.38,1.74,1.34,1.78,1.29,1.83,1.23,1.87,1.18,0.43,1.6,0.79,1.66,0.08,1.43,0.19,1.34,0.56,1.34,0.39,1.26,0.9,1.38,0.96,1.33,0.84,1.23,0.88,1.18,1.0,1.23,1.07,1.18,1.17,1.24,1.21,1.19,1.29,1.16,1.33,1.11,1.42,1.19,1.46,1.12,1.56,1.06,1.6,1.01,1.4,0.99,1.44,0.94,1.25,1.01,1.27,0.96,1.13,1.06,0.96,1.06,1.0,1.01,0.78,1.07,0.84,1.02,0.7,1.07,0.08,1.09,0.19,0.99,0.27,0.96,0.33,0.97,0.4,0.94,0.46,0.92,0.57,0.91,0.63,0.86,0.68,0.89,0.76,0.86,0.82,0.82,0.92,0.89,0.98,0.84,1.05,0.87,1.13,0.82,1.19,0.77,1.25,0.86,1.42,0.79,1.48,0.74,0.1,0.82,0.16,0.77,0.23,0.8,0.31,0.75,0.37,0.7,0.43,0.74,0.51,0.72,0.57,0.67,0.64,0.7,0.72,0.75,0.78,0.69,0.84,0.65,0.94,0.72,1.0,0.67,0.04,0.66,0.1,0.6,0.16,0.64,0.25,0.57,0.31,0.52,0.37,0.55,0.45,0.59,0.51,0.54,0.57,0.57,0.66,0.55,0.72,0.5,0.02,0.52,0.08,0.47,0.14,0.42,0.2,0.45,0.27,0.4,0.33,0.35,0.41,0.38,0.49,0.42,0.55,0.37,0.61,0.41,0.04,0.35,0.1,0.3,0.18,0.25,0.27,0.27,0.33,0.22,0.39,0.25,0.47,0.3,0.53,0.25,0.06,0.18,0.12,0.13,0.2,0.15,0.27,0.1,0.02,0.08,0.08,0.03,0.33,0.11,0.41,0.06,1.11,0.4,1.23,0.38,1.46,0.48,0.94,0.55,1.0,0.52,1.27,0.6,0.76,0.38,0.8,0.32,1.95,0.11,1.28,0.03,3.45,0.74,3.37,1.43,3.02,1.09,4.3,1.72,3.65,1.84,3.88,2.05,2.4,1.26,2.44,1.23,2.3,1.14,1.66,1.23,1.78,1.09,0.04,1.8];
const wdlRome1 = [2.33,4.47,2.73,4.0,3.51,4.06,1.77,3.43,2.59,3.4,3.04,3.41,3.61,3.49,3.71,3.43,3.42,3.29,3.26,3.16,4.49,3.22,0.45,3.1,1.99,3.12,3.96,3.01,2.68,2.99,2.66,2.91,2.99,2.8,3.02,2.77,2.99,2.61,1.28,2.86,3.77,2.77,3.54,2.58,3.1,2.36,2.7,2.36,2.73,2.23,2.15,2.29,1.29,2.36,1.53,2.25,0.55,2.21,3.67,2.23,4.18,2.1,3.65,2.09,1.81,2.07,1.97,2.0,2.02,1.91,2.06,1.88,2.12,1.91,2.1,1.76,2.33,1.82,2.48,1.95,2.46,1.79,2.18,1.83,2.8,1.9,3.45,1.96,4.38,1.83,1.4,1.74,0.68,1.73,2.59,1.71,1.29,1.58,1.71,1.63,2.06,1.57,2.13,1.57,2.33,1.62,2.41,1.55,2.84,1.6,0.45,1.57,1.23,1.45,1.38,1.43,1.84,1.47,1.94,1.47,2.45,1.45,4.05,1.45,0.59,1.35,3.22,1.33,0.18,1.3,0.52,1.2,1.97,1.24,1.56,1.22,2.27,1.16,2.46,1.19,1.11,1.07,0.76,1.05,3.54,1.11,0.46,0.97,0.39,0.84,1.15,0.75,2.72,0.82,2.8,0.76,2.78,0.65,0.09,0.63,0.64,0.65,0.76,0.59,0.83,0.52,0.3,0.51,0.49,0.56,0.88,0.21,0,0.35,0.31,0];
const wdlMost1 = [1.46,4.49,1.78,4.0,2.28,4.06,2.34,3.51,2.42,3.43,1.17,3.43,2.01,3.41,3.34,3.4,2.24,3.29,2.21,3.15,0.33,3.1,1.34,3.12,2.94,3.22,1.72,2.99,1.69,2.89,2.62,3.01,0.69,2.86,2.03,2.8,2.11,2.77,2.09,2.61,2.46,2.78,2.3,2.58,1.5,2.61,0.23,2.21,0.78,2.36,0.98,2.25,0.88,2.23,1.14,2.25,1.35,2.33,1.38,2.26,1.53,2.17,1.72,2.36,1.74,2.25,2.05,2.36,2.46,2.23,2.65,2.1,1.14,2.09,1.33,2.0,1.36,1.91,1.33,1.88,1.6,1.96,1.65,1.85,1.77,1.9,2.29,1.96,2.95,1.83,0.52,1.73,0.58,1.69,0.91,1.74,1.46,1.74,1.62,1.79,0.79,1.52,1.17,1.6,1.44,1.58,1.48,1.55,1.93,1.6,0.3,1.57,0.94,1.45,1.1,1.47,1.22,1.47,1.64,1.45,2.64,1.45,0.41,1.35,0.12,1.3,0.17,1.3,1.05,1.24,0.41,1.2,1.53,1.16,1.59,1.19,2.09,1.33,2.35,1.11,0.25,0.97,0.52,1.05,0.73,1.07,1.77,0.82,1.88,0.76,1.84,0.65,0.09,0.63,0.4,0.63,0.43,0.59,0.23,0.51,0.27,0.51,0.55,0.52,0.52,0.51,0.02,0.48,0.04,0.35,0.54,0.21,0.08,0];
const wdlRome2 = [2.57,4.47,2.4,4.0,3.58,4.06,1.78,3.43,2.85,3.4,2.51,3.4,3.0,3.29,3.46,3.49,3.69,3.43,3.21,3.16,4.35,3.22,0.69,3.1,1.98,3.12,3.95,3.01,2.68,2.99,1.98,2.86,3.03,2.8,3.12,2.77,3.03,2.61,3.64,2.77,3.53,2.58,3.39,2.36,2.6,2.36,2.62,2.23,2.29,2.29,1.76,2.25,1.4,2.26,1.61,2.36,1.01,2.21,3.27,2.23,4.41,2.1,3.82,2.09,1.86,2.07,2.42,1.96,2.41,1.91,2.01,1.85,2.82,2.01,3.36,1.9,4.05,1.83,2.52,1.82,2.48,1.79,2.56,1.88,2.3,1.82,1.26,1.74,0.82,1.82,2.99,1.76,3.09,1.71,1.53,1.73,1.77,1.68,2.08,1.57,2.5,1.6,2.53,1.63,1.28,1.58,3.19,1.55,1.55,1.52,3.03,1.47,3.88,1.45,1.34,1.45,2.32,1.44,3.03,1.33,2.32,1.25,2.35,1.22,2.38,1.16,2.69,1.19,1.04,1.2,0.29,1.3,0.62,1.3,3.46,1.11,1.23,1.05,1.71,0.97,1.53,0.84,2.57,0.82,2.57,0.76,2.9,0.65,1.1,0.62,1.12,0.59,1.28,0.54,0.38,0.63,0.84,0.52,0.44,0.48,0.59,0.3,0.78,0.35,0.03,0.29,0.07,0.23,1.15,0.21,1.24,0,0.04,0.67];
const wdlMost2 = [1.76,4.47,1.92,4.0,2.6,4.06,2.6,3.51,2.74,3.43,1.31,3.43,2.2,3.41,3.12,3.4,2.41,3.29,2.45,3.16,0.44,3.1,1.49,3.12,3.29,3.22,1.97,2.99,1.97,2.89,2.95,3.01,1.15,2.86,2.29,2.8,2.36,2.77,2.34,2.61,2.6,2.61,2.11,2.93,2.76,2.78,0.53,2.21,1.02,2.36,1.1,2.23,1.23,2.23,1.26,2.23,1.46,2.09,1.58,2.0,1.79,2.17,1.94,2.36,2.39,2.36,2.63,2.23,2.69,2.09,3.11,2.1,1.62,1.91,1.67,1.88,1.71,1.82,1.78,1.95,1.81,1.88,2.2,1.91,2.6,1.96,3.19,1.83,0.97,1.74,1.02,1.69,1.14,1.73,0.37,1.82,1.85,1.79,1.88,1.71,2.02,1.74,2.0,1.58,1.75,1.68,0.72,1.58,1.46,1.76,1.27,1.6,1.31,1.55,1.57,1.58,0.98,1.52,1.02,1.44,2.93,1.45,1.34,1.45,0.1,1.3,0.33,1.3,0.63,1.2,1.45,1.24,1.7,1.16,1.88,1.19,2.3,1.33,2.63,1.11,0.75,1.05,0.9,0.97,1.92,0.82,2.02,0.76,2.1,0.65,0.03,0.67,0.21,0.63,0.53,0.65,0.63,0.59,0.69,0.56,0.66,0.61,0.23,0.48,0.31,0.51,0.43,0.35,0.27,0.3,0.01,0.29,0.04,0.24,0.72,0.21,0.65,0];

// panel layout on the page (pixels)
const panelBoxes = [
  { left: 142, top: 25, width: 887, height: 812 },
  { left: 1148, top: 25, width: 890, height: 812 },
  { left: 142, top: 937, width: 900, height: 817 },
  { left: 1146, top: 937, width: 892, height: 817 },
  { left: 139, top: 1868, width: 891, height: 807 },
  { left: 1146, top: 1868, width: 890, height: 807 }
];
const panelRome = [tglRome1, tglRome2, xdtRome1, xdtRome2, wdlRome1, wdlRome2];
const panelMost = [tglMost1, tglMost2, xdtMost1, xdtMost2, wdlMost1, wdlMost2];

const FONT = '"Liberation Serif", "Times New Roman", serif';
const AXIS_COLOR = '#333';
const TEXT_COLOR = '#1a1a1a';

function toPairs(flat) {
  const out = [];
  for (let i = 0; i + 1 < flat.length; i += 2) out.push([flat[i], flat[i + 1]]);
  return out;
}

const chart = echarts.init(document.getElementById('chart'), null, { renderer: 'canvas' });

const grids = [], xAxes = [], yAxes = [], series = [], legends = [];

panelBoxes.forEach((box, i) => {
  const col = i % 2;
  grids.push({ left: box.left, top: box.top, width: box.width, height: box.height, containLabel: false });

  const baseAxis = {
    gridIndex: i, type: 'value',
    min: axisTicks[0], max: axisTicks[axisTicks.length - 1],
    interval: axisTicks[1] - axisTicks[0],
    splitLine: { show: false },
    axisLabel: { show: false },
    axisLine: { show: true, onZero: false, lineStyle: { color: AXIS_COLOR, width: 2 } },
    axisTick: { show: true, inside: true, length: 10, lineStyle: { color: AXIS_COLOR, width: 2 } }
  };
  xAxes.push(Object.assign({}, baseAxis, { position: 'bottom' }));
  xAxes.push(Object.assign({}, baseAxis, { position: 'top' }));
  yAxes.push(Object.assign({}, baseAxis, { position: 'left' }));
  yAxes.push(Object.assign({}, baseAxis, { position: 'right' }));

  const xi = 2 * i, yi = 2 * i;
  series.push({
    type: 'scatter', name: romeNames[col], xAxisIndex: xi, yAxisIndex: yi,
    data: toPairs(panelRome[i]), symbol: 'circle', symbolSize: 9,
    itemStyle: { color: '#0000ff' }, z: 2, silent: true
  });
  series.push({
    type: 'scatter', name: mostNames[col], xAxisIndex: xi, yAxisIndex: yi,
    data: toPairs(panelMost[i]), symbol: 'circle', symbolSize: 9,
    itemStyle: { color: '#ff0000' }, z: 3, silent: true
  });
  series.push({
    type: 'line', name: '1:1', xAxisIndex: xi, yAxisIndex: yi,
    data: [[oneToOne[0], oneToOne[0]], [oneToOne[1], oneToOne[1]]],
    symbol: 'none', lineStyle: { color: '#000', width: 4 }, z: 4, silent: true
  });

  legends.push({
    data: [romeNames[col], mostNames[col]],
    orient: 'vertical',
    left: box.left + 44, top: box.top + 39,
    icon: 'circle', itemWidth: 9, itemHeight: 9, itemGap: 6,
    padding: [14, 52, 10, 80],
    borderColor: '#222', borderWidth: 2, backgroundColor: '#fff',
    selectedMode: false,
    textStyle: { fontSize: 53, lineHeight: 52, color: TEXT_COLOR, fontFamily: FONT, padding: [0, 0, 0, 73] }
  });
});

chart.setOption({
  backgroundColor: '#fff',
  animation: false,
  textStyle: { fontFamily: FONT },
  legend: legends,
  grid: grids,
  xAxis: xAxes,
  yAxis: yAxes,
  series: series
});

// tick labels, axis titles and panel tags: placed with the axes' own scale (convertToPixel)
function textEl(x, y, text, size, align, vAlign, opts) {
  return Object.assign({
    type: 'text', x: x, y: y, silent: true, z: 100,
    style: {
      text: text, fill: TEXT_COLOR, fontSize: size, fontFamily: FONT,
      align: align, verticalAlign: vAlign, textAlign: align, textVerticalAlign: vAlign
    }
  }, opts || {});
}
const labelEls = [];
panelBoxes.forEach((box, i) => {
  const finder = { xAxisIndex: 2 * i, yAxisIndex: 2 * i };
  const lo = axisTicks[0], hi = axisTicks[axisTicks.length - 1];
  axisTicks.forEach(v => {
    const px = chart.convertToPixel(finder, [v, lo]);
    labelEls.push(textEl(px[0], px[1] + 50, String(v), 53, 'center', 'middle', { scaleX: 1.2 }));
    const py = chart.convertToPixel(finder, [lo, v]);
    labelEls.push(textEl(py[0] - 25, py[1], String(v), 53, 'right', 'middle', { scaleX: 1.2 }));
  });
  const c0 = chart.convertToPixel(finder, [lo, lo]);
  const c1 = chart.convertToPixel(finder, [hi, hi]);
  const tag = chart.convertToPixel(finder, [lo, labelLevel]);
  labelEls.push(textEl(tag[0] + 12, tag[1] + 3, panelLabels[i], 56, 'left', 'middle', { scaleX: 1.12 }));
  if (i >= 4) {
    labelEls.push(textEl((c0[0] + c1[0]) / 2, c0[1] + 122, xTitle, 62, 'center', 'middle'));
  }
  if (i % 2 === 0) {
    labelEls.push(textEl(c0[0] - 99, (c0[1] + c1[1]) / 2 + 10, yTitle, 61, 'center', 'middle',
      { rotation: Math.PI / 2 }));
  }
});
chart.setOption({ graphic: { elements: labelEls } });
</script>
</body>
</html>
